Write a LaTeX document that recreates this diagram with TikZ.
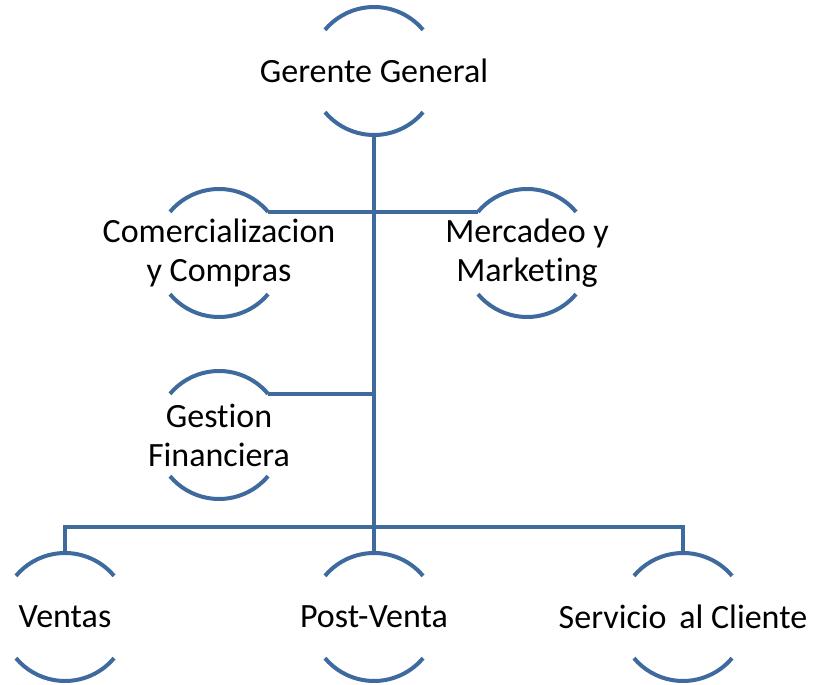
\documentclass[tikz,border=0pt]{standalone}
\usepackage{fontspec}
\setmainfont[Ligatures=NoCommon]{Carlito}
\definecolor{linec}{RGB}{62,106,158}
\tikzset{
  unit/.style={inner sep=0pt, align=center, font=\fontsize{34}{39}\selectfont, text=black},
  arcline/.style={draw=linec, line width=4pt},
  link/.style={draw=linec, line width=4pt, line join=miter}
}
\newcommand\orgunit[4]{%
  \node[unit] (#1) at (#2,#3) {#4};
  \draw[arcline] ([shift={(40:64)}]#1.center) arc[start angle=40,end angle=140,radius=64];
  \draw[arcline] ([shift={(-40:64)}]#1.center) arc[start angle=-40,end angle=-140,radius=64];
  \coordinate (#1-t) at ([yshift=64pt]#1.center);
  \coordinate (#1-b) at ([yshift=-64pt]#1.center);
  \coordinate (#1-tr) at ([shift={(40:64)}]#1.center);
  \coordinate (#1-tl) at ([shift={(140:64)}]#1.center);
}
\begin{document}
\begin{tikzpicture}[x=1pt,y=1pt]
\useasboundingbox (0,0) rectangle (814,685);
\orgunit{g}{374}{614}{Gerente General}
\orgunit{c}{219}{432}{Comercializacion\\y Compras}
\orgunit{m}{527}{432}{Mercadeo y\\Marketing}
\orgunit{f}{219}{250}{Gestion\\Financiera}
\orgunit{v}{65}{68}{Ventas}
\orgunit{p}{374}{68}{Post-Venta}
\orgunit{s}{683}{68}{Servicio\hspace{5pt} al Cliente}
\coordinate (bus) at (374,158);
\draw[link] (g-b) -- (p-t);
\draw[link] (c-tr) -- (m-tl);
\draw[link] (f-tr) -- (f-tr -| g-b);
\draw[link] (v-t) -- (v-t |- bus) -- (s-t |- bus) -- (s-t);
\end{tikzpicture}
\end{document}
